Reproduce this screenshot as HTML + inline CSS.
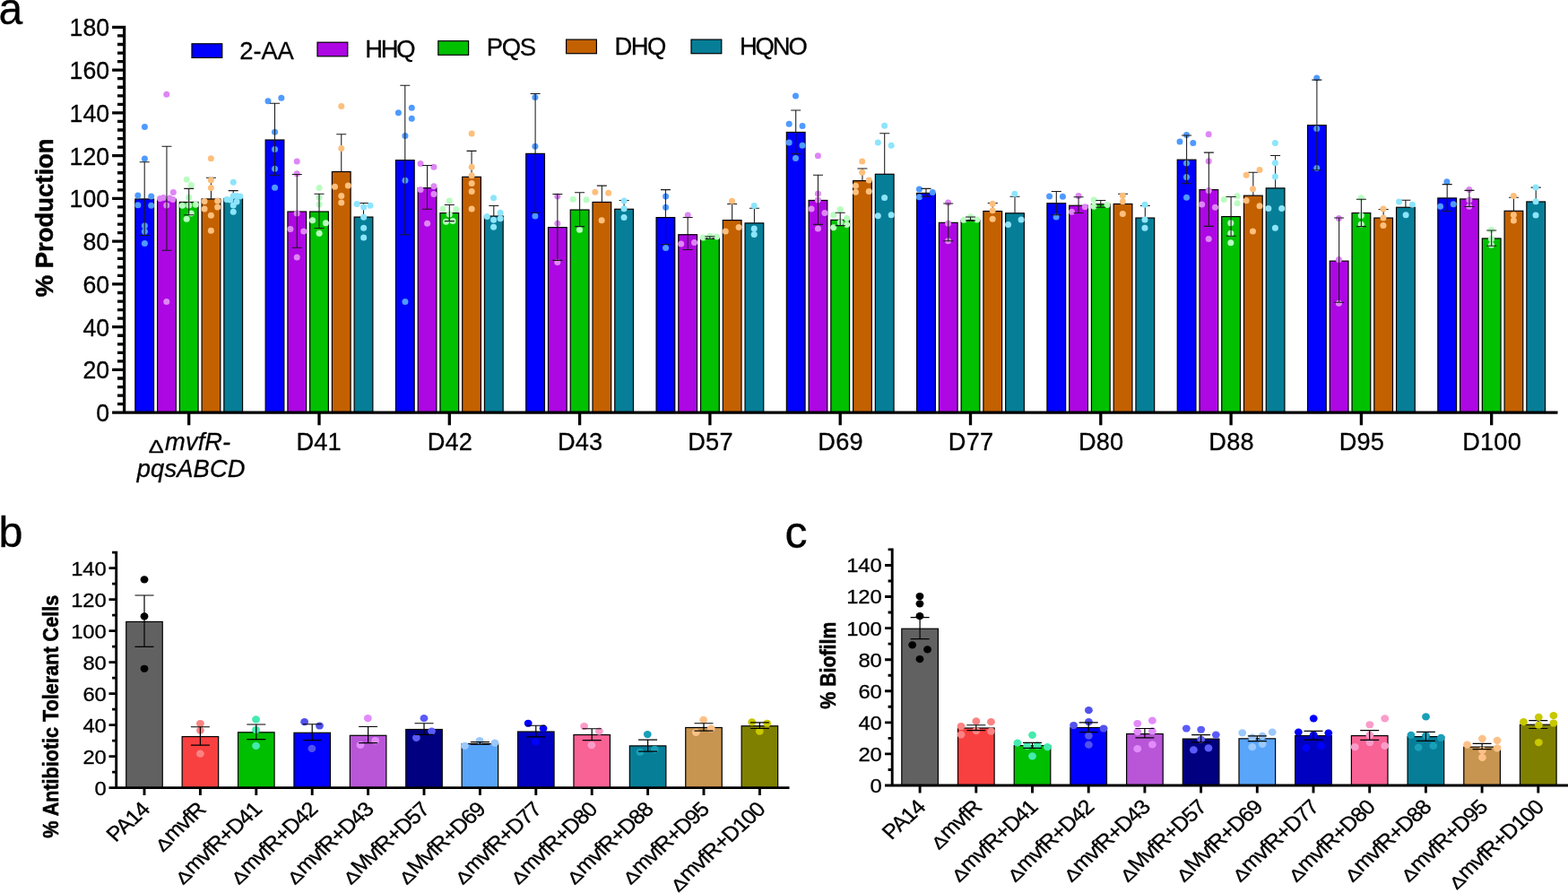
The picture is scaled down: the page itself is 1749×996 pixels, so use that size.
<!DOCTYPE html>
<html lang="en"><head><meta charset="utf-8"><title>Figure: % production, antibiotic tolerant cells and biofilm</title>
<style>html,body{margin:0;padding:0;background:#fff}body{width:1749px;height:996px;overflow:hidden}svg{display:block}text{font-family:'Liberation Sans', 'DejaVu Sans', sans-serif;fill:#000;stroke:#000;stroke-width:0.3px;stroke-linejoin:round}</style>
</head><body>
<svg width="1749" height="996" viewBox="0 0 1749 996">
<rect width="1749" height="996" fill="#fff"/>
<g id="panel-a">
<g stroke="#000" stroke-width="1.2">
<rect x="150.85" y="221.95" width="20.7" height="238.25" fill="#0000FF"/>
<rect x="175.6" y="222.2" width="20.7" height="238" fill="#AD07E3"/>
<rect x="200.35" y="225.47" width="20.7" height="234.73" fill="#00C000"/>
<rect x="225.1" y="221.95" width="20.7" height="238.25" fill="#C36100"/>
<rect x="249.85" y="221.45" width="20.7" height="238.75" fill="#077E97"/>
<rect x="296.15" y="156.04" width="20.7" height="304.16" fill="#0000FF"/>
<rect x="320.9" y="236.04" width="20.7" height="224.16" fill="#AD07E3"/>
<rect x="345.65" y="236.04" width="20.7" height="224.16" fill="#00C000"/>
<rect x="370.4" y="191.51" width="20.7" height="268.69" fill="#C36100"/>
<rect x="395.15" y="242.08" width="20.7" height="218.12" fill="#077E97"/>
<rect x="441.45" y="178.68" width="20.7" height="281.52" fill="#0000FF"/>
<rect x="466.2" y="209.62" width="20.7" height="250.58" fill="#AD07E3"/>
<rect x="490.95" y="237.55" width="20.7" height="222.65" fill="#00C000"/>
<rect x="515.7" y="197.3" width="20.7" height="262.9" fill="#C36100"/>
<rect x="540.45" y="241.07" width="20.7" height="219.13" fill="#077E97"/>
<rect x="586.75" y="171.38" width="20.7" height="288.82" fill="#0000FF"/>
<rect x="611.5" y="253.65" width="20.7" height="206.55" fill="#AD07E3"/>
<rect x="636.25" y="234.03" width="20.7" height="226.17" fill="#00C000"/>
<rect x="661" y="225.47" width="20.7" height="234.73" fill="#C36100"/>
<rect x="685.75" y="233.27" width="20.7" height="226.93" fill="#077E97"/>
<rect x="732.05" y="242.58" width="20.7" height="217.62" fill="#0000FF"/>
<rect x="756.8" y="261.7" width="20.7" height="198.5" fill="#AD07E3"/>
<rect x="781.55" y="265.72" width="20.7" height="194.48" fill="#00C000"/>
<rect x="806.3" y="245.6" width="20.7" height="214.6" fill="#C36100"/>
<rect x="831.05" y="248.87" width="20.7" height="211.33" fill="#077E97"/>
<rect x="877.35" y="147.48" width="20.7" height="312.72" fill="#0000FF"/>
<rect x="902.1" y="223.46" width="20.7" height="236.74" fill="#AD07E3"/>
<rect x="926.85" y="245.35" width="20.7" height="214.85" fill="#00C000"/>
<rect x="951.6" y="201.57" width="20.7" height="258.63" fill="#C36100"/>
<rect x="976.35" y="194.28" width="20.7" height="265.92" fill="#077E97"/>
<rect x="1022.65" y="215.41" width="20.7" height="244.79" fill="#0000FF"/>
<rect x="1047.4" y="248.36" width="20.7" height="211.84" fill="#AD07E3"/>
<rect x="1072.15" y="245.6" width="20.7" height="214.6" fill="#00C000"/>
<rect x="1096.9" y="235.53" width="20.7" height="224.67" fill="#C36100"/>
<rect x="1121.65" y="237.8" width="20.7" height="222.4" fill="#077E97"/>
<rect x="1167.95" y="226.73" width="20.7" height="233.47" fill="#0000FF"/>
<rect x="1192.7" y="229.25" width="20.7" height="230.95" fill="#AD07E3"/>
<rect x="1217.45" y="227.74" width="20.7" height="232.46" fill="#00C000"/>
<rect x="1242.2" y="227.48" width="20.7" height="232.72" fill="#C36100"/>
<rect x="1266.95" y="243.08" width="20.7" height="217.12" fill="#077E97"/>
<rect x="1313.25" y="178.18" width="20.7" height="282.02" fill="#0000FF"/>
<rect x="1338" y="211.64" width="20.7" height="248.56" fill="#AD07E3"/>
<rect x="1362.75" y="241.57" width="20.7" height="218.63" fill="#00C000"/>
<rect x="1387.5" y="218.18" width="20.7" height="242.02" fill="#C36100"/>
<rect x="1412.25" y="209.87" width="20.7" height="250.33" fill="#077E97"/>
<rect x="1458.55" y="139.69" width="20.7" height="320.51" fill="#0000FF"/>
<rect x="1483.3" y="291.13" width="20.7" height="169.07" fill="#AD07E3"/>
<rect x="1508.05" y="237.55" width="20.7" height="222.65" fill="#00C000"/>
<rect x="1532.8" y="243.08" width="20.7" height="217.12" fill="#C36100"/>
<rect x="1557.55" y="231.26" width="20.7" height="228.94" fill="#077E97"/>
<rect x="1603.85" y="220.94" width="20.7" height="239.26" fill="#0000FF"/>
<rect x="1628.6" y="221.95" width="20.7" height="238.25" fill="#AD07E3"/>
<rect x="1653.35" y="265.97" width="20.7" height="194.23" fill="#00C000"/>
<rect x="1678.1" y="235.28" width="20.7" height="224.92" fill="#C36100"/>
<rect x="1702.85" y="224.97" width="20.7" height="235.23" fill="#077E97"/>
</g>
<path d="M235.45 198.3V221.95 M229.95 198.3H240.95 M260.2 212.64V221.45 M254.7 212.64H265.7 M380.75 149.75V191.51 M375.25 149.75H386.25 M405.5 226.48V242.08 M400 226.48H411 M526.05 168.36V197.3 M520.55 168.36H531.55 M550.8 229.5V241.07 M545.3 229.5H556.3 M671.35 207.11V225.47 M665.85 207.11H676.85 M696.1 223.46V233.27 M690.6 223.46H701.6 M816.65 227.48V245.6 M811.15 227.48H822.15 M841.4 232.26V248.87 M835.9 232.26H846.9 M961.95 187.99V201.57 M956.45 187.99H967.45 M986.7 148.74V194.28 M981.2 148.74H992.2 M1107.25 226.48V235.53 M1101.75 226.48H1112.75 M1132 219.18V237.8 M1126.5 219.18H1137.5 M1252.55 216.16V227.48 M1247.05 216.16H1258.05 M1277.3 229.5V243.08 M1271.8 229.5H1282.8 M1397.85 192.26V218.18 M1392.35 192.26H1403.35 M1422.6 173.4V209.87 M1417.1 173.4H1428.1 M1543.15 233.52V243.08 M1537.65 233.52H1548.65 M1567.9 223.21V231.26 M1562.4 223.21H1573.4 M1688.45 220.19V235.28 M1682.95 220.19H1693.95 M1713.2 209.12V224.97 M1707.7 209.12H1718.7" fill="none" stroke="#1a1a1a" stroke-width="1.05"/>
<g fill="#FDBF7D"><circle cx="235.35" cy="176.67" r="3.5"/><circle cx="235.35" cy="201.07" r="3.5"/><circle cx="235.35" cy="209.62" r="3.5"/><circle cx="228.05" cy="224.47" r="3.5"/><circle cx="242.64" cy="223.96" r="3.5"/><circle cx="228.05" cy="233.02" r="3.5"/><circle cx="242.64" cy="231.01" r="3.5"/><circle cx="235.35" cy="240.31" r="3.5"/><circle cx="235.35" cy="257.17" r="3.5"/><circle cx="380.75" cy="118.55" r="3.5"/><circle cx="380.75" cy="165.6" r="3.5"/><circle cx="373.46" cy="208.36" r="3.5"/><circle cx="388.3" cy="207.11" r="3.5"/><circle cx="380.75" cy="218.43" r="3.5"/><circle cx="380.75" cy="225.97" r="3.5"/><circle cx="526.16" cy="148.99" r="3.5"/><circle cx="526.16" cy="186.23" r="3.5"/><circle cx="526.16" cy="195.79" r="3.5"/><circle cx="526.16" cy="204.59" r="3.5"/><circle cx="526.16" cy="213.4" r="3.5"/><circle cx="526.16" cy="233.02" r="3.5"/><circle cx="663.84" cy="214.15" r="3.5"/><circle cx="678.68" cy="215.16" r="3.5"/><circle cx="671.13" cy="245.85" r="3.5"/><circle cx="816.54" cy="224.21" r="3.5"/><circle cx="809.25" cy="257.92" r="3.5"/><circle cx="824.09" cy="253.4" r="3.5"/><circle cx="961.7" cy="179.94" r="3.5"/><circle cx="961.7" cy="192.26" r="3.5"/><circle cx="969.25" cy="201.07" r="3.5"/><circle cx="954.4" cy="207.36" r="3.5"/><circle cx="954.4" cy="214.15" r="3.5"/><circle cx="969.25" cy="213.4" r="3.5"/><circle cx="1107.17" cy="227.23" r="3.5"/><circle cx="1107.17" cy="234.78" r="3.5"/><circle cx="1107.17" cy="244.34" r="3.5"/><circle cx="1252.33" cy="218.18" r="3.5"/><circle cx="1252.33" cy="224.72" r="3.5"/><circle cx="1252.33" cy="238.55" r="3.5"/><circle cx="1405.03" cy="189.5" r="3.5"/><circle cx="1390.19" cy="195.28" r="3.5"/><circle cx="1397.48" cy="210.63" r="3.5"/><circle cx="1390.19" cy="223.71" r="3.5"/><circle cx="1405.03" cy="229.75" r="3.5"/><circle cx="1397.48" cy="257.92" r="3.5"/><circle cx="1542.96" cy="233.02" r="3.5"/><circle cx="1542.96" cy="243.08" r="3.5"/><circle cx="1542.96" cy="251.38" r="3.5"/><circle cx="1688.37" cy="218.43" r="3.5"/><circle cx="1688.37" cy="239.81" r="3.5"/><circle cx="1688.37" cy="246.1" r="3.5"/></g>
<g fill="#8DE5FB"><circle cx="260.25" cy="203.33" r="3.5"/><circle cx="252.96" cy="222.45" r="3.5"/><circle cx="256.73" cy="222.96" r="3.5"/><circle cx="260.25" cy="218.43" r="3.5"/><circle cx="264.03" cy="218.43" r="3.5"/><circle cx="267.8" cy="218.93" r="3.5"/><circle cx="264.03" cy="224.97" r="3.5"/><circle cx="260.25" cy="228.99" r="3.5"/><circle cx="260.25" cy="236.29" r="3.5"/><circle cx="398.11" cy="227.48" r="3.5"/><circle cx="412.96" cy="229.25" r="3.5"/><circle cx="405.66" cy="231.01" r="3.5"/><circle cx="405.66" cy="242.33" r="3.5"/><circle cx="405.66" cy="254.15" r="3.5"/><circle cx="405.66" cy="264.97" r="3.5"/><circle cx="550.57" cy="220.69" r="3.5"/><circle cx="543.27" cy="241.57" r="3.5"/><circle cx="558.11" cy="237.3" r="3.5"/><circle cx="558.11" cy="243.84" r="3.5"/><circle cx="550.57" cy="245.35" r="3.5"/><circle cx="550.57" cy="253.14" r="3.5"/><circle cx="696.04" cy="223.96" r="3.5"/><circle cx="696.04" cy="232.77" r="3.5"/><circle cx="696.04" cy="242.58" r="3.5"/><circle cx="841.19" cy="229.5" r="3.5"/><circle cx="841.19" cy="254.91" r="3.5"/><circle cx="841.19" cy="261.45" r="3.5"/><circle cx="986.6" cy="140.19" r="3.5"/><circle cx="979.31" cy="159.06" r="3.5"/><circle cx="994.15" cy="162.33" r="3.5"/><circle cx="986.6" cy="220.44" r="3.5"/><circle cx="979.31" cy="240.82" r="3.5"/><circle cx="994.15" cy="239.81" r="3.5"/><circle cx="1131.82" cy="216.16" r="3.5"/><circle cx="1139.12" cy="245.09" r="3.5"/><circle cx="1124.53" cy="250.38" r="3.5"/><circle cx="1276.98" cy="228.24" r="3.5"/><circle cx="1276.98" cy="245.09" r="3.5"/><circle cx="1276.98" cy="254.15" r="3.5"/><circle cx="1422.39" cy="159.56" r="3.5"/><circle cx="1422.39" cy="181.7" r="3.5"/><circle cx="1422.39" cy="197.04" r="3.5"/><circle cx="1414.84" cy="232.52" r="3.5"/><circle cx="1429.69" cy="232.52" r="3.5"/><circle cx="1422.39" cy="254.15" r="3.5"/><circle cx="1560.57" cy="224.97" r="3.5"/><circle cx="1575.42" cy="228.24" r="3.5"/><circle cx="1568.12" cy="239.81" r="3.5"/><circle cx="1713.03" cy="209.12" r="3.5"/><circle cx="1713.03" cy="224.72" r="3.5"/><circle cx="1713.03" cy="240.06" r="3.5"/></g>
<g fill="#4F9AFF"><circle cx="161.38" cy="141.45" r="3.5"/><circle cx="161.38" cy="176.92" r="3.5"/><circle cx="153.84" cy="217.92" r="3.5"/><circle cx="168.68" cy="218.93" r="3.5"/><circle cx="153.84" cy="228.74" r="3.5"/><circle cx="168.68" cy="229.25" r="3.5"/><circle cx="161.38" cy="251.64" r="3.5"/><circle cx="161.38" cy="258.18" r="3.5"/><circle cx="161.38" cy="271.51" r="3.5"/><circle cx="298.99" cy="112.77" r="3.5"/><circle cx="313.84" cy="109.25" r="3.5"/><circle cx="306.54" cy="147.23" r="3.5"/><circle cx="306.54" cy="166.6" r="3.5"/><circle cx="306.54" cy="188.24" r="3.5"/><circle cx="306.54" cy="209.37" r="3.5"/><circle cx="444.4" cy="125.85" r="3.5"/><circle cx="459.25" cy="120.31" r="3.5"/><circle cx="459.25" cy="132.14" r="3.5"/><circle cx="451.95" cy="151.51" r="3.5"/><circle cx="451.95" cy="201.32" r="3.5"/><circle cx="451.95" cy="336.42" r="3.5"/><circle cx="596.92" cy="108.49" r="3.5"/><circle cx="596.92" cy="163.33" r="3.5"/><circle cx="596.92" cy="241.07" r="3.5"/><circle cx="742.58" cy="218.93" r="3.5"/><circle cx="742.58" cy="231.26" r="3.5"/><circle cx="742.58" cy="276.54" r="3.5"/><circle cx="887.48" cy="106.98" r="3.5"/><circle cx="880.19" cy="138.18" r="3.5"/><circle cx="895.03" cy="140.44" r="3.5"/><circle cx="880.19" cy="159.06" r="3.5"/><circle cx="895.03" cy="162.33" r="3.5"/><circle cx="887.48" cy="176.42" r="3.5"/><circle cx="1025.41" cy="210.88" r="3.5"/><circle cx="1040.25" cy="214.4" r="3.5"/><circle cx="1025.41" cy="219.69" r="3.5"/><circle cx="1170.57" cy="218.93" r="3.5"/><circle cx="1185.41" cy="219.18" r="3.5"/><circle cx="1178.11" cy="242.08" r="3.5"/><circle cx="1323.52" cy="150.5" r="3.5"/><circle cx="1315.97" cy="158.05" r="3.5"/><circle cx="1330.82" cy="159.56" r="3.5"/><circle cx="1323.52" cy="181.95" r="3.5"/><circle cx="1323.52" cy="197.55" r="3.5"/><circle cx="1323.52" cy="220.19" r="3.5"/><circle cx="1468.75" cy="87.11" r="3.5"/><circle cx="1468.75" cy="143.46" r="3.5"/><circle cx="1468.75" cy="187.48" r="3.5"/><circle cx="1613.91" cy="202.83" r="3.5"/><circle cx="1606.61" cy="230.25" r="3.5"/><circle cx="1621.2" cy="227.74" r="3.5"/></g>
<g fill="#DE86F6"><circle cx="185.79" cy="105.22" r="3.5"/><circle cx="193.33" cy="214.4" r="3.5"/><circle cx="178.49" cy="221.45" r="3.5"/><circle cx="182.26" cy="220.44" r="3.5"/><circle cx="189.31" cy="220.94" r="3.5"/><circle cx="192.83" cy="222.45" r="3.5"/><circle cx="185.79" cy="228.99" r="3.5"/><circle cx="185.79" cy="336.42" r="3.5"/><circle cx="331.19" cy="179.94" r="3.5"/><circle cx="331.19" cy="193.77" r="3.5"/><circle cx="331.19" cy="238.05" r="3.5"/><circle cx="323.9" cy="255.41" r="3.5"/><circle cx="338.74" cy="257.92" r="3.5"/><circle cx="331.19" cy="287.11" r="3.5"/><circle cx="469.06" cy="182.45" r="3.5"/><circle cx="483.9" cy="186.23" r="3.5"/><circle cx="483.9" cy="207.86" r="3.5"/><circle cx="469.06" cy="211.38" r="3.5"/><circle cx="483.9" cy="216.42" r="3.5"/><circle cx="476.6" cy="249.37" r="3.5"/><circle cx="621.82" cy="218.93" r="3.5"/><circle cx="621.82" cy="249.37" r="3.5"/><circle cx="621.82" cy="292.39" r="3.5"/><circle cx="767.23" cy="240.06" r="3.5"/><circle cx="759.69" cy="272.01" r="3.5"/><circle cx="774.53" cy="270.5" r="3.5"/><circle cx="912.39" cy="173.65" r="3.5"/><circle cx="912.39" cy="215.91" r="3.5"/><circle cx="912.39" cy="222.96" r="3.5"/><circle cx="905.09" cy="233.02" r="3.5"/><circle cx="919.94" cy="237.55" r="3.5"/><circle cx="912.39" cy="254.91" r="3.5"/><circle cx="1057.61" cy="225.97" r="3.5"/><circle cx="1057.61" cy="249.37" r="3.5"/><circle cx="1057.61" cy="268.74" r="3.5"/><circle cx="1203.02" cy="218.43" r="3.5"/><circle cx="1210.31" cy="230.75" r="3.5"/><circle cx="1195.47" cy="236.29" r="3.5"/><circle cx="1348.18" cy="149.75" r="3.5"/><circle cx="1348.18" cy="179.69" r="3.5"/><circle cx="1348.18" cy="212.39" r="3.5"/><circle cx="1340.63" cy="227.99" r="3.5"/><circle cx="1355.47" cy="231.26" r="3.5"/><circle cx="1348.18" cy="266.48" r="3.5"/><circle cx="1493.4" cy="243.58" r="3.5"/><circle cx="1493.4" cy="289.62" r="3.5"/><circle cx="1493.4" cy="338.18" r="3.5"/><circle cx="1638.81" cy="211.38" r="3.5"/><circle cx="1638.81" cy="222.96" r="3.5"/><circle cx="1638.81" cy="230.25" r="3.5"/></g>
<g fill="#B9FDC0"><circle cx="208.18" cy="200.31" r="3.5"/><circle cx="213.21" cy="206.6" r="3.5"/><circle cx="210.69" cy="220.19" r="3.5"/><circle cx="203.4" cy="229.25" r="3.5"/><circle cx="210.69" cy="228.99" r="3.5"/><circle cx="218.24" cy="228.24" r="3.5"/><circle cx="213.21" cy="238.05" r="3.5"/><circle cx="208.18" cy="244.34" r="3.5"/><circle cx="356.1" cy="209.62" r="3.5"/><circle cx="356.1" cy="220.44" r="3.5"/><circle cx="356.1" cy="227.99" r="3.5"/><circle cx="348.55" cy="245.85" r="3.5"/><circle cx="363.4" cy="248.87" r="3.5"/><circle cx="356.1" cy="260.19" r="3.5"/><circle cx="501.26" cy="223.96" r="3.5"/><circle cx="493.96" cy="233.02" r="3.5"/><circle cx="508.81" cy="233.52" r="3.5"/><circle cx="501.26" cy="239.06" r="3.5"/><circle cx="497.48" cy="247.36" r="3.5"/><circle cx="505.03" cy="246.6" r="3.5"/><circle cx="639.18" cy="222.2" r="3.5"/><circle cx="654.03" cy="222.7" r="3.5"/><circle cx="646.48" cy="256.16" r="3.5"/><circle cx="784.34" cy="264.97" r="3.5"/><circle cx="791.89" cy="263.21" r="3.5"/><circle cx="799.43" cy="263.96" r="3.5"/><circle cx="937.3" cy="233.52" r="3.5"/><circle cx="929.75" cy="239.81" r="3.5"/><circle cx="944.59" cy="243.58" r="3.5"/><circle cx="937.3" cy="248.11" r="3.5"/><circle cx="944.59" cy="250.38" r="3.5"/><circle cx="929.75" cy="253.65" r="3.5"/><circle cx="1074.97" cy="245.35" r="3.5"/><circle cx="1082.52" cy="241.82" r="3.5"/><circle cx="1089.81" cy="245.09" r="3.5"/><circle cx="1220.13" cy="222.96" r="3.5"/><circle cx="1220.13" cy="230.25" r="3.5"/><circle cx="1234.97" cy="228.49" r="3.5"/><circle cx="1380.13" cy="218.68" r="3.5"/><circle cx="1365.28" cy="222.45" r="3.5"/><circle cx="1380.13" cy="226.73" r="3.5"/><circle cx="1372.83" cy="248.87" r="3.5"/><circle cx="1372.83" cy="260.19" r="3.5"/><circle cx="1372.83" cy="270.75" r="3.5"/><circle cx="1518.31" cy="220.69" r="3.5"/><circle cx="1518.31" cy="240.57" r="3.5"/><circle cx="1518.31" cy="250.13" r="3.5"/><circle cx="1663.47" cy="256.42" r="3.5"/><circle cx="1663.47" cy="266.48" r="3.5"/><circle cx="1663.47" cy="273.27" r="3.5"/></g>
<path d="M161.2 180.69V262.45 M155.7 180.69H166.7 M155.7 262.45H166.7 M185.95 163.33V279.31 M180.45 163.33H191.45 M180.45 279.31H191.45 M210.7 210.38V239.81 M205.2 210.38H216.2 M205.2 239.81H216.2 M306.5 115.28V195.79 M301 115.28H312 M301 195.79H312 M331.25 194.53V276.29 M325.75 194.53H336.75 M325.75 276.29H336.75 M356 216.16V254.4 M350.5 216.16H361.5 M350.5 254.4H361.5 M451.8 95.16V261.7 M446.3 95.16H457.3 M446.3 261.7H457.3 M476.55 184.47V233.27 M471.05 184.47H482.05 M471.05 233.27H482.05 M501.3 228.49V246.6 M495.8 228.49H506.8 M495.8 246.6H506.8 M597.1 104.47V237.3 M591.6 104.47H602.6 M591.6 237.3H602.6 M621.85 216.42V290.38 M616.35 216.42H627.35 M616.35 290.38H627.35 M646.6 214.65V252.64 M641.1 214.65H652.1 M641.1 252.64H652.1 M742.4 211.64V272.52 M736.9 211.64H747.9 M736.9 272.52H747.9 M767.15 242.58V278.55 M761.65 242.58H772.65 M761.65 278.55H772.65 M791.9 263.71V266.23 M786.4 263.71H797.4 M786.4 266.23H797.4 M887.7 123.08V171.64 M882.2 123.08H893.2 M882.2 171.64H893.2 M912.45 195.28V250.38 M906.95 195.28H917.95 M906.95 250.38H917.95 M937.2 237.3V251.64 M931.7 237.3H942.7 M931.7 251.64H942.7 M1033 210.38V219.18 M1027.5 210.38H1038.5 M1027.5 219.18H1038.5 M1057.75 226.98V268.74 M1052.25 226.98H1063.25 M1052.25 268.74H1063.25 M1082.5 242.08V246.1 M1077 242.08H1088 M1077 246.1H1088 M1178.3 213.4V239.81 M1172.8 213.4H1183.8 M1172.8 239.81H1183.8 M1203.05 219.69V237.55 M1197.55 219.69H1208.55 M1197.55 237.55H1208.55 M1227.8 223.46V231.26 M1222.3 223.46H1233.3 M1222.3 231.26H1233.3 M1323.6 151.01V204.84 M1318.1 151.01H1329.1 M1318.1 204.84H1329.1 M1348.35 170.13V252.39 M1342.85 170.13H1353.85 M1342.85 252.39H1353.85 M1373.1 219.43V263.21 M1367.6 219.43H1378.6 M1367.6 263.21H1378.6 M1468.9 89.12V189.75 M1463.4 89.12H1474.4 M1463.4 189.75H1474.4 M1493.65 243.08V337.17 M1488.15 243.08H1499.15 M1488.15 337.17H1499.15 M1518.4 222.2V252.64 M1512.9 222.2H1523.9 M1512.9 252.64H1523.9 M1614.2 205.6V235.53 M1608.7 205.6H1619.7 M1608.7 235.53H1619.7 M1638.95 212.39V230.5 M1633.45 212.39H1644.45 M1633.45 230.5H1644.45 M1663.7 256.92V274.28 M1658.2 256.92H1669.2 M1658.2 274.28H1669.2" fill="none" stroke="#1a1a1a" stroke-width="1.05"/>
<path d="M125.1 460.2H138.6 M131 450.65H138.6 M131 441.1H138.6 M131 431.55H138.6 M131 422H138.6 M125.1 412.44H138.6 M131 402.89H138.6 M131 393.34H138.6 M131 383.79H138.6 M131 374.24H138.6 M125.1 364.69H138.6 M131 355.14H138.6 M131 345.59H138.6 M131 336.04H138.6 M131 326.48H138.6 M125.1 316.93H138.6 M131 307.38H138.6 M131 297.83H138.6 M131 288.28H138.6 M131 278.73H138.6 M125.1 269.18H138.6 M131 259.63H138.6 M131 250.08H138.6 M131 240.52H138.6 M131 230.97H138.6 M125.1 221.42H138.6 M131 211.87H138.6 M131 202.32H138.6 M131 192.77H138.6 M131 183.22H138.6 M125.1 173.67H138.6 M131 164.12H138.6 M131 154.56H138.6 M131 145.01H138.6 M131 135.46H138.6 M125.1 125.91H138.6 M131 116.36H138.6 M131 106.81H138.6 M131 97.26H138.6 M131 87.71H138.6 M125.1 78.16H138.6 M131 68.6H138.6 M131 59.05H138.6 M131 49.5H138.6 M131 39.95H138.6 M125.1 30.4H138.6 M210.7 460.2V474.2 M356 460.2V474.2 M501.3 460.2V474.2 M646.6 460.2V474.2 M791.9 460.2V474.2 M937.2 460.2V474.2 M1082.5 460.2V474.2 M1227.8 460.2V474.2 M1373.1 460.2V474.2 M1518.4 460.2V474.2 M1663.7 460.2V474.2 M138.6 28.75V461.85 M125.1 460.2H1737.5" fill="none" stroke="#000" stroke-width="3.3"/>
<text transform="translate(107.29 470.1) scale(0.9600 1)" font-size="27.8">0</text>
<text transform="translate(92.48 422.34) scale(0.9600 1)" font-size="27.8">20</text>
<text transform="translate(92.48 374.59) scale(0.9600 1)" font-size="27.8">40</text>
<text transform="translate(92.48 326.83) scale(0.9600 1)" font-size="27.8">60</text>
<text transform="translate(92.48 279.08) scale(0.9600 1)" font-size="27.8">80</text>
<text transform="translate(77.6 231.32) scale(0.9600 1)" font-size="27.8">100</text>
<text transform="translate(77.6 183.57) scale(0.9600 1)" font-size="27.8">120</text>
<text transform="translate(77.6 135.81) scale(0.9600 1)" font-size="27.8">140</text>
<text transform="translate(77.6 88.06) scale(0.9600 1)" font-size="27.8">160</text>
<text transform="translate(77.6 40.3) scale(0.9600 1)" font-size="27.8">180</text>
<text transform="translate(59.4 331.19) rotate(-90) scale(1.0017 1.0000)" font-size="27.4" font-weight="bold" style="stroke-width:0.55px">% Production</text>
<text transform="translate(165.83 504.7) scale(1.2150 1)" font-size="21">Δ</text>
<text transform="translate(184.12 501.7)" font-size="27.3" font-style="italic" letter-spacing="0.06">mvfR-</text>
<text transform="translate(152.78 531.9)" font-size="27.3" font-style="italic" letter-spacing="0.14">pqsABCD</text>
<text transform="translate(330.4 501.8)" font-size="27.2" letter-spacing="0.2">D41</text>
<text transform="translate(476.64 501.8)" font-size="27.2" letter-spacing="0.2">D42</text>
<text transform="translate(621.93 501.8)" font-size="27.2" letter-spacing="0.2">D43</text>
<text transform="translate(767.24 501.8)" font-size="27.2" letter-spacing="0.2">D57</text>
<text transform="translate(912.37 501.8)" font-size="27.2" letter-spacing="0.2">D69</text>
<text transform="translate(1057.84 501.8)" font-size="27.2" letter-spacing="0.2">D77</text>
<text transform="translate(1202.97 501.8)" font-size="27.2" letter-spacing="0.2">D80</text>
<text transform="translate(1348.33 501.8)" font-size="27.2" letter-spacing="0.2">D88</text>
<text transform="translate(1493.7 501.8)" font-size="27.2" letter-spacing="0.2">D95</text>
<text transform="translate(1631.18 501.8)" font-size="27.2" letter-spacing="0.2">D100</text>
<rect x="214" y="48.8" width="33.8" height="15.6" fill="#0000FF" stroke="#000" stroke-width="1.2"/>
<text transform="translate(267.33 65.6)" font-size="27.4" letter-spacing="-0.12">2-AA</text>
<rect x="354" y="47.2" width="33.8" height="15.6" fill="#AD07E3" stroke="#000" stroke-width="1.2"/>
<text transform="translate(407.24 63.8)" font-size="27.4" letter-spacing="-2.22">HHQ</text>
<rect x="488.8" y="45.7" width="33.8" height="15.6" fill="#00C000" stroke="#000" stroke-width="1.2"/>
<text transform="translate(542.74 62.2)" font-size="27.4" letter-spacing="-1.24">PQS</text>
<rect x="631.6" y="44.1" width="33.8" height="15.6" fill="#C36100" stroke="#000" stroke-width="1.2"/>
<text transform="translate(685.54 60.6)" font-size="27.4" letter-spacing="-1.57">DHQ</text>
<rect x="771" y="44.1" width="33.8" height="15.6" fill="#077E97" stroke="#000" stroke-width="1.2"/>
<text transform="translate(824.94 60.6)" font-size="27.4" letter-spacing="-2.11">HQNO</text>
</g>
<g id="panel-b">
<g stroke="#000" stroke-width="1.2">
<rect x="140.75" y="693.43" width="40.5" height="185.17" fill="#616161"/>
<rect x="203.15" y="821.57" width="40.5" height="57.03" fill="#F94040"/>
<rect x="265.55" y="816.79" width="40.5" height="61.81" fill="#00BE00"/>
<rect x="327.95" y="817.29" width="40.5" height="61.31" fill="#0000FF"/>
<rect x="390.35" y="820.31" width="40.5" height="58.29" fill="#B856D7"/>
<rect x="452.75" y="813.52" width="40.5" height="65.08" fill="#000080"/>
<rect x="515.15" y="829.62" width="40.5" height="48.98" fill="#59A5FA"/>
<rect x="577.55" y="816.04" width="40.5" height="62.56" fill="#0000C0"/>
<rect x="639.95" y="819.56" width="40.5" height="59.04" fill="#F86295"/>
<rect x="702.35" y="831.89" width="40.5" height="46.71" fill="#077E97"/>
<rect x="764.75" y="811.51" width="40.5" height="67.09" fill="#C89550"/>
<rect x="827.15" y="809.75" width="40.5" height="68.85" fill="#808000"/>
</g>
<g fill="#000000"><ellipse cx="161.01" cy="646.39" rx="4.4" ry="4.1"/><ellipse cx="161.01" cy="687.4" rx="4.4" ry="4.1"/><ellipse cx="161.01" cy="745.76" rx="4.4" ry="4.1"/></g>
<g fill="#FB8383"><ellipse cx="223.4" cy="806.98" rx="4.4" ry="4.1"/><ellipse cx="223.4" cy="814.53" rx="4.4" ry="4.1"/><ellipse cx="223.4" cy="840.69" rx="4.4" ry="4.1"/></g>
<g fill="#44EAAE"><ellipse cx="285.53" cy="802.45" rx="4.4" ry="4.1"/><ellipse cx="285.53" cy="814.02" rx="4.4" ry="4.1"/><ellipse cx="285.53" cy="831.89" rx="4.4" ry="4.1"/></g>
<g fill="#5252EC"><ellipse cx="339.62" cy="805.22" rx="4.4" ry="4.1"/><ellipse cx="356.48" cy="809.5" rx="4.4" ry="4.1"/><ellipse cx="347.92" cy="834.91" rx="4.4" ry="4.1"/></g>
<g fill="#E18CFA"><ellipse cx="410.31" cy="801.19" rx="4.4" ry="4.1"/><ellipse cx="418.62" cy="826.1" rx="4.4" ry="4.1"/><ellipse cx="402.01" cy="830.88" rx="4.4" ry="4.1"/></g>
<g fill="#5B5BF9"><ellipse cx="472.96" cy="801.19" rx="4.4" ry="4.1"/><ellipse cx="481.51" cy="815.53" rx="4.4" ry="4.1"/><ellipse cx="464.4" cy="822.83" rx="4.4" ry="4.1"/></g>
<g fill="#9CC8FC"><ellipse cx="535.09" cy="826.1" rx="4.4" ry="4.1"/><ellipse cx="551.95" cy="828.62" rx="4.4" ry="4.1"/><ellipse cx="518.49" cy="831.89" rx="4.4" ry="4.1"/></g>
<g fill="#0000FF"><ellipse cx="589.18" cy="806.73" rx="4.4" ry="4.1"/><ellipse cx="606.04" cy="812.52" rx="4.4" ry="4.1"/><ellipse cx="597.48" cy="827.36" rx="4.4" ry="4.1"/></g>
<g fill="#FA9CC9"><ellipse cx="651.57" cy="810" rx="4.4" ry="4.1"/><ellipse cx="668.43" cy="815.53" rx="4.4" ry="4.1"/><ellipse cx="659.87" cy="831.13" rx="4.4" ry="4.1"/></g>
<g fill="#1A9FB9"><ellipse cx="722.26" cy="819.06" rx="4.4" ry="4.1"/><ellipse cx="730.31" cy="835.91" rx="4.4" ry="4.1"/><ellipse cx="713.96" cy="838.93" rx="4.4" ry="4.1"/></g>
<g fill="#FDC187"><ellipse cx="784.65" cy="802.96" rx="4.4" ry="4.1"/><ellipse cx="793.21" cy="812.52" rx="4.4" ry="4.1"/><ellipse cx="776.35" cy="816.79" rx="4.4" ry="4.1"/></g>
<g fill="#C8C800"><ellipse cx="838.74" cy="805.47" rx="4.4" ry="4.1"/><ellipse cx="855.6" cy="806.73" rx="4.4" ry="4.1"/><ellipse cx="847.3" cy="815.53" rx="4.4" ry="4.1"/></g>
<path d="M161 664V721.36 M150.5 664H171.5 M150.5 721.36H171.5 M223.4 810.75V831.13 M212.9 810.75H233.9 M212.9 831.13H233.9 M285.8 807.99V824.59 M275.3 807.99H296.3 M275.3 824.59H296.3 M348.2 807.74V825.6 M337.7 807.74H358.7 M337.7 825.6H358.7 M410.6 810.5V828.62 M400.1 810.5H421.1 M400.1 828.62H421.1 M473 806.73V819.31 M462.5 806.73H483.5 M462.5 819.31H483.5 M535.4 827.61V830.13 M524.9 827.61H545.9 M524.9 830.13H545.9 M597.8 809.24V821.82 M587.3 809.24H608.3 M587.3 821.82H608.3 M660.2 812.77V825.6 M649.7 812.77H670.7 M649.7 825.6H670.7 M722.6 825.09V838.18 M712.1 825.09H733.1 M712.1 838.18H733.1 M785 806.73V815.03 M774.5 806.73H795.5 M774.5 815.03H795.5 M847.4 805.97V812.52 M836.9 805.97H857.9 M836.9 812.52H857.9" fill="none" stroke="#000" stroke-width="1.2"/>
<path d="M121.5 878.6H129.7 M125.1 861.1H129.7 M121.5 843.6H129.7 M125.1 826.1H129.7 M121.5 808.6H129.7 M125.1 791.1H129.7 M121.5 773.6H129.7 M125.1 756.1H129.7 M121.5 738.6H129.7 M125.1 721.1H129.7 M121.5 703.6H129.7 M125.1 686.1H129.7 M121.5 668.6H129.7 M125.1 651.1H129.7 M121.5 633.6H129.7 M125.1 616.1H129.7 M161 878.6V887.1 M223.4 878.6V887.1 M285.8 878.6V887.1 M348.2 878.6V887.1 M410.6 878.6V887.1 M473 878.6V887.1 M535.4 878.6V887.1 M597.8 878.6V887.1 M660.2 878.6V887.1 M722.6 878.6V887.1 M785 878.6V887.1 M847.4 878.6V887.1 M129.7 614.65V880.05 M121.5 878.6H880.5" fill="none" stroke="#000" stroke-width="2.9"/>
<text transform="translate(105.6 886.5) scale(1.1000 1)" font-size="21.6">0</text>
<text transform="translate(92.42 851.5) scale(1.1000 1)" font-size="21.6">20</text>
<text transform="translate(92.42 816.5) scale(1.1000 1)" font-size="21.6">40</text>
<text transform="translate(92.42 781.5) scale(1.1000 1)" font-size="21.6">60</text>
<text transform="translate(92.42 746.5) scale(1.1000 1)" font-size="21.6">80</text>
<text transform="translate(79.17 711.5) scale(1.1000 1)" font-size="21.6">100</text>
<text transform="translate(79.17 676.5) scale(1.1000 1)" font-size="21.6">120</text>
<text transform="translate(79.17 641.5) scale(1.1000 1)" font-size="21.6">140</text>
<text transform="translate(65.3 934.74) rotate(-90) scale(0.9593 1.0400)" font-size="22.5" font-weight="bold" style="stroke-width:0.55px">% Antibiotic Tolerant Cells</text>
<g transform="translate(169 903.8) scale(1.1 1) rotate(-45)" font-size="22.9">
<text x="-1" text-anchor="end" letter-spacing="-1">PA14</text>
</g>
<g transform="translate(231.4 903.8) scale(1.1 1) rotate(-45)" font-size="22.9">
<text x="-1" text-anchor="end" letter-spacing="-1">mvfR</text>
<text transform="translate(-50.63 1.5) scale(1.2 1)" text-anchor="end" font-size="18.32">Δ</text>
</g>
<g transform="translate(293.8 903.8) scale(1.1 1) rotate(-45)" font-size="22.9">
<text x="-1" text-anchor="end" letter-spacing="-1">mvfR+D41</text>
<text transform="translate(-102.01 1.5) scale(1.2 1)" text-anchor="end" font-size="18.32">Δ</text>
</g>
<g transform="translate(356.2 903.8) scale(1.1 1) rotate(-45)" font-size="22.9">
<text x="-1" text-anchor="end" letter-spacing="-1">mvfR+D42</text>
<text transform="translate(-102.01 1.5) scale(1.2 1)" text-anchor="end" font-size="18.32">Δ</text>
</g>
<g transform="translate(418.6 903.8) scale(1.1 1) rotate(-45)" font-size="22.9">
<text x="-1" text-anchor="end" letter-spacing="-1">mvfR+D43</text>
<text transform="translate(-102.01 1.5) scale(1.2 1)" text-anchor="end" font-size="18.32">Δ</text>
</g>
<g transform="translate(481 903.8) scale(1.1 1) rotate(-45)" font-size="22.9">
<text x="-1" text-anchor="end" letter-spacing="-1">MvfR+D57</text>
<text transform="translate(-102.01 1.5) scale(1.2 1)" text-anchor="end" font-size="18.32">Δ</text>
</g>
<g transform="translate(543.4 903.8) scale(1.1 1) rotate(-45)" font-size="22.9">
<text x="-1" text-anchor="end" letter-spacing="-1">MvfR+D69</text>
<text transform="translate(-102.01 1.5) scale(1.2 1)" text-anchor="end" font-size="18.32">Δ</text>
</g>
<g transform="translate(605.8 903.8) scale(1.1 1) rotate(-45)" font-size="22.9">
<text x="-1" text-anchor="end" letter-spacing="-1">mvfR+D77</text>
<text transform="translate(-102.01 1.5) scale(1.2 1)" text-anchor="end" font-size="18.32">Δ</text>
</g>
<g transform="translate(668.2 903.8) scale(1.1 1) rotate(-45)" font-size="22.9">
<text x="-1" text-anchor="end" letter-spacing="-1">mvfR+D80</text>
<text transform="translate(-102.01 1.5) scale(1.2 1)" text-anchor="end" font-size="18.32">Δ</text>
</g>
<g transform="translate(730.6 903.8) scale(1.1 1) rotate(-45)" font-size="22.9">
<text x="-1" text-anchor="end" letter-spacing="-1">mvfR+D88</text>
<text transform="translate(-102.01 1.5) scale(1.2 1)" text-anchor="end" font-size="18.32">Δ</text>
</g>
<g transform="translate(793 903.8) scale(1.1 1) rotate(-45)" font-size="22.9">
<text x="-1" text-anchor="end" letter-spacing="-1">mvfR+D95</text>
<text transform="translate(-102.01 1.5) scale(1.2 1)" text-anchor="end" font-size="18.32">Δ</text>
</g>
<g transform="translate(855.4 903.8) scale(1.1 1) rotate(-45)" font-size="22.9">
<text x="-1" text-anchor="end" letter-spacing="-1">mvfR+D100</text>
<text transform="translate(-113.75 1.5) scale(1.2 1)" text-anchor="end" font-size="18.32">Δ</text>
</g>
</g>
<g id="panel-c">
<g stroke="#000" stroke-width="1.2">
<rect x="1005.8" y="701.23" width="40.6" height="174.77" fill="#616161"/>
<rect x="1068.5" y="812.01" width="40.6" height="63.99" fill="#F94040"/>
<rect x="1131.2" y="831.63" width="40.6" height="44.37" fill="#00BE00"/>
<rect x="1193.9" y="811.51" width="40.6" height="64.49" fill="#0000FF"/>
<rect x="1256.6" y="818.55" width="40.6" height="57.45" fill="#B856D7"/>
<rect x="1319.3" y="824.09" width="40.6" height="51.91" fill="#000080"/>
<rect x="1382" y="823.84" width="40.6" height="52.16" fill="#59A5FA"/>
<rect x="1444.7" y="820.57" width="40.6" height="55.43" fill="#0000C0"/>
<rect x="1507.4" y="820.57" width="40.6" height="55.43" fill="#F86295"/>
<rect x="1570.1" y="821.57" width="40.6" height="54.43" fill="#077E97"/>
<rect x="1632.8" y="833.14" width="40.6" height="42.86" fill="#C89550"/>
<rect x="1695.5" y="808.24" width="40.6" height="67.76" fill="#808000"/>
</g>
<g fill="#000000"><ellipse cx="1025.97" cy="665.01" rx="4.4" ry="4.1"/><ellipse cx="1025.97" cy="673.31" rx="4.4" ry="4.1"/><ellipse cx="1025.97" cy="687.14" rx="4.4" ry="4.1"/><ellipse cx="1017.67" cy="719.35" rx="4.4" ry="4.1"/><ellipse cx="1034.53" cy="724.38" rx="4.4" ry="4.1"/><ellipse cx="1025.97" cy="735.19" rx="4.4" ry="4.1"/></g>
<g fill="#FB8383"><ellipse cx="1088.87" cy="804.46" rx="4.4" ry="4.1"/><ellipse cx="1105.47" cy="805.22" rx="4.4" ry="4.1"/><ellipse cx="1072.01" cy="810" rx="4.4" ry="4.1"/><ellipse cx="1072.01" cy="819.31" rx="4.4" ry="4.1"/><ellipse cx="1088.87" cy="815.03" rx="4.4" ry="4.1"/><ellipse cx="1105.47" cy="815.53" rx="4.4" ry="4.1"/></g>
<g fill="#44EAAE"><ellipse cx="1151.51" cy="819.81" rx="4.4" ry="4.1"/><ellipse cx="1134.91" cy="828.62" rx="4.4" ry="4.1"/><ellipse cx="1168.36" cy="833.14" rx="4.4" ry="4.1"/><ellipse cx="1145.72" cy="831.89" rx="4.4" ry="4.1"/><ellipse cx="1157.04" cy="831.63" rx="4.4" ry="4.1"/><ellipse cx="1151.51" cy="843.46" rx="4.4" ry="4.1"/></g>
<g fill="#5252EC"><ellipse cx="1214.4" cy="792.14" rx="4.4" ry="4.1"/><ellipse cx="1214.4" cy="805.22" rx="4.4" ry="4.1"/><ellipse cx="1197.55" cy="808.99" rx="4.4" ry="4.1"/><ellipse cx="1231.01" cy="812.52" rx="4.4" ry="4.1"/><ellipse cx="1214.4" cy="820.57" rx="4.4" ry="4.1"/><ellipse cx="1214.4" cy="830.63" rx="4.4" ry="4.1"/></g>
<g fill="#E18CFA"><ellipse cx="1268.74" cy="806.98" rx="4.4" ry="4.1"/><ellipse cx="1285.35" cy="803.71" rx="4.4" ry="4.1"/><ellipse cx="1268.74" cy="816.04" rx="4.4" ry="4.1"/><ellipse cx="1285.35" cy="815.28" rx="4.4" ry="4.1"/><ellipse cx="1285.35" cy="830.38" rx="4.4" ry="4.1"/><ellipse cx="1268.74" cy="835.16" rx="4.4" ry="4.1"/></g>
<g fill="#5B5BF9"><ellipse cx="1323.34" cy="812.52" rx="4.4" ry="4.1"/><ellipse cx="1339.69" cy="813.77" rx="4.4" ry="4.1"/><ellipse cx="1356.3" cy="819.56" rx="4.4" ry="4.1"/><ellipse cx="1339.69" cy="824.84" rx="4.4" ry="4.1"/><ellipse cx="1331.39" cy="836.41" rx="4.4" ry="4.1"/><ellipse cx="1347.99" cy="834.4" rx="4.4" ry="4.1"/></g>
<g fill="#9CC8FC"><ellipse cx="1385.73" cy="817.29" rx="4.4" ry="4.1"/><ellipse cx="1419.19" cy="816.54" rx="4.4" ry="4.1"/><ellipse cx="1396.8" cy="822.58" rx="4.4" ry="4.1"/><ellipse cx="1408.12" cy="820.82" rx="4.4" ry="4.1"/><ellipse cx="1396.8" cy="833.14" rx="4.4" ry="4.1"/><ellipse cx="1408.12" cy="829.87" rx="4.4" ry="4.1"/></g>
<g fill="#0000FF"><ellipse cx="1465.23" cy="801.45" rx="4.4" ry="4.1"/><ellipse cx="1448.37" cy="816.54" rx="4.4" ry="4.1"/><ellipse cx="1481.83" cy="817.55" rx="4.4" ry="4.1"/><ellipse cx="1465.23" cy="819.56" rx="4.4" ry="4.1"/><ellipse cx="1456.92" cy="834.15" rx="4.4" ry="4.1"/><ellipse cx="1473.53" cy="831.89" rx="4.4" ry="4.1"/></g>
<g fill="#FA9CC9"><ellipse cx="1544.72" cy="801.45" rx="4.4" ry="4.1"/><ellipse cx="1527.87" cy="808.24" rx="4.4" ry="4.1"/><ellipse cx="1527.87" cy="819.81" rx="4.4" ry="4.1"/><ellipse cx="1511.26" cy="833.14" rx="4.4" ry="4.1"/><ellipse cx="1527.87" cy="828.11" rx="4.4" ry="4.1"/><ellipse cx="1544.72" cy="831.89" rx="4.4" ry="4.1"/></g>
<g fill="#1A9FB9"><ellipse cx="1590.51" cy="799.43" rx="4.4" ry="4.1"/><ellipse cx="1573.91" cy="819.81" rx="4.4" ry="4.1"/><ellipse cx="1607.36" cy="822.83" rx="4.4" ry="4.1"/><ellipse cx="1590.51" cy="820.31" rx="4.4" ry="4.1"/><ellipse cx="1582.21" cy="833.65" rx="4.4" ry="4.1"/><ellipse cx="1598.81" cy="831.89" rx="4.4" ry="4.1"/></g>
<g fill="#FDC187"><ellipse cx="1653.4" cy="823.84" rx="4.4" ry="4.1"/><ellipse cx="1670.01" cy="825.85" rx="4.4" ry="4.1"/><ellipse cx="1636.55" cy="830.63" rx="4.4" ry="4.1"/><ellipse cx="1670.01" cy="834.4" rx="4.4" ry="4.1"/><ellipse cx="1653.4" cy="836.92" rx="4.4" ry="4.1"/><ellipse cx="1653.4" cy="844.97" rx="4.4" ry="4.1"/></g>
<path d="M1026.1 688.65V712.55 M1015.6 688.65H1036.6 M1015.6 712.55H1036.6 M1088.8 808.74V814.53 M1078.3 808.74H1099.3 M1078.3 814.53H1099.3 M1151.5 828.36V834.4 M1141 828.36H1162 M1141 834.4H1162 M1214.2 805.97V816.54 M1203.7 805.97H1224.7 M1203.7 816.54H1224.7 M1276.9 812.52V822.83 M1266.4 812.52H1287.4 M1266.4 822.83H1287.4 M1339.6 819.56V827.86 M1329.1 819.56H1350.1 M1329.1 827.86H1350.1 M1402.3 820.82V826.6 M1391.8 820.82H1412.8 M1391.8 826.6H1412.8 M1465 815.28V825.09 M1454.5 815.28H1475.5 M1454.5 825.09H1475.5 M1527.7 814.53V825.35 M1517.2 814.53H1538.2 M1517.2 825.35H1538.2 M1590.4 816.29V826.35 M1579.9 816.29H1600.9 M1579.9 826.35H1600.9 M1653.1 829.37V835.66 M1642.6 829.37H1663.6 M1642.6 835.66H1663.6 M1715.8 803.71V812.52 M1705.3 803.71H1726.3 M1705.3 812.52H1726.3" fill="none" stroke="#000" stroke-width="1.2"/>
<g fill="#C8C800"><ellipse cx="1732.9" cy="798.18" rx="4.4" ry="4.1"/><ellipse cx="1716.3" cy="799.94" rx="4.4" ry="4.1"/><ellipse cx="1699.44" cy="805.22" rx="4.4" ry="4.1"/><ellipse cx="1732.9" cy="806.48" rx="4.4" ry="4.1"/><ellipse cx="1716.3" cy="808.74" rx="4.4" ry="4.1"/><ellipse cx="1716.3" cy="828.11" rx="4.4" ry="4.1"/></g>
<path d="M987 876H995.2 M990.6 858.46H995.2 M987 840.92H995.2 M990.6 823.38H995.2 M987 805.84H995.2 M990.6 788.3H995.2 M987 770.76H995.2 M990.6 753.22H995.2 M987 735.68H995.2 M990.6 718.14H995.2 M987 700.6H995.2 M990.6 683.06H995.2 M987 665.52H995.2 M990.6 647.98H995.2 M987 630.44H995.2 M990.6 612.9H995.2 M1026.1 876V884.5 M1088.8 876V884.5 M1151.5 876V884.5 M1214.2 876V884.5 M1276.9 876V884.5 M1339.6 876V884.5 M1402.3 876V884.5 M1465 876V884.5 M1527.7 876V884.5 M1590.4 876V884.5 M1653.1 876V884.5 M1715.8 876V884.5 M995.2 611.45V877.45 M987 876H1749" fill="none" stroke="#000" stroke-width="2.9"/>
<text transform="translate(970.6 883.9) scale(1.1000 1)" font-size="21.6">0</text>
<text transform="translate(957.42 848.82) scale(1.1000 1)" font-size="21.6">20</text>
<text transform="translate(957.42 813.74) scale(1.1000 1)" font-size="21.6">40</text>
<text transform="translate(957.42 778.66) scale(1.1000 1)" font-size="21.6">60</text>
<text transform="translate(957.42 743.58) scale(1.1000 1)" font-size="21.6">80</text>
<text transform="translate(944.17 708.5) scale(1.1000 1)" font-size="21.6">100</text>
<text transform="translate(944.17 673.42) scale(1.1000 1)" font-size="21.6">120</text>
<text transform="translate(944.17 638.34) scale(1.1000 1)" font-size="21.6">140</text>
<text transform="translate(932.4 790.63) rotate(-90) scale(0.9466 1.0400)" font-size="22.5" font-weight="bold" style="stroke-width:0.55px">% Biofilm</text>
<g transform="translate(1034.1 901.2) scale(1.1 1) rotate(-45)" font-size="22.9">
<text x="-1" text-anchor="end" letter-spacing="-1">PA14</text>
</g>
<g transform="translate(1096.8 901.2) scale(1.1 1) rotate(-45)" font-size="22.9">
<text x="-1" text-anchor="end" letter-spacing="-1">mvfR</text>
<text transform="translate(-50.63 1.5) scale(1.2 1)" text-anchor="end" font-size="18.32">Δ</text>
</g>
<g transform="translate(1159.5 901.2) scale(1.1 1) rotate(-45)" font-size="22.9">
<text x="-1" text-anchor="end" letter-spacing="-1">mvfR+D41</text>
<text transform="translate(-102.01 1.5) scale(1.2 1)" text-anchor="end" font-size="18.32">Δ</text>
</g>
<g transform="translate(1222.2 901.2) scale(1.1 1) rotate(-45)" font-size="22.9">
<text x="-1" text-anchor="end" letter-spacing="-1">mvfR+D42</text>
<text transform="translate(-102.01 1.5) scale(1.2 1)" text-anchor="end" font-size="18.32">Δ</text>
</g>
<g transform="translate(1284.9 901.2) scale(1.1 1) rotate(-45)" font-size="22.9">
<text x="-1" text-anchor="end" letter-spacing="-1">mvfR+D43</text>
<text transform="translate(-102.01 1.5) scale(1.2 1)" text-anchor="end" font-size="18.32">Δ</text>
</g>
<g transform="translate(1347.6 901.2) scale(1.1 1) rotate(-45)" font-size="22.9">
<text x="-1" text-anchor="end" letter-spacing="-1">MvfR+D57</text>
<text transform="translate(-102.01 1.5) scale(1.2 1)" text-anchor="end" font-size="18.32">Δ</text>
</g>
<g transform="translate(1410.3 901.2) scale(1.1 1) rotate(-45)" font-size="22.9">
<text x="-1" text-anchor="end" letter-spacing="-1">MvfR+D69</text>
<text transform="translate(-102.01 1.5) scale(1.2 1)" text-anchor="end" font-size="18.32">Δ</text>
</g>
<g transform="translate(1473 901.2) scale(1.1 1) rotate(-45)" font-size="22.9">
<text x="-1" text-anchor="end" letter-spacing="-1">mvfR+D77</text>
<text transform="translate(-102.01 1.5) scale(1.2 1)" text-anchor="end" font-size="18.32">Δ</text>
</g>
<g transform="translate(1535.7 901.2) scale(1.1 1) rotate(-45)" font-size="22.9">
<text x="-1" text-anchor="end" letter-spacing="-1">mvfR+D80</text>
<text transform="translate(-102.01 1.5) scale(1.2 1)" text-anchor="end" font-size="18.32">Δ</text>
</g>
<g transform="translate(1598.4 901.2) scale(1.1 1) rotate(-45)" font-size="22.9">
<text x="-1" text-anchor="end" letter-spacing="-1">mvfR+D88</text>
<text transform="translate(-102.01 1.5) scale(1.2 1)" text-anchor="end" font-size="18.32">Δ</text>
</g>
<g transform="translate(1661.1 901.2) scale(1.1 1) rotate(-45)" font-size="22.9">
<text x="-1" text-anchor="end" letter-spacing="-1">mvfR+D95</text>
<text transform="translate(-102.01 1.5) scale(1.2 1)" text-anchor="end" font-size="18.32">Δ</text>
</g>
<g transform="translate(1723.8 901.2) scale(1.1 1) rotate(-45)" font-size="22.9">
<text x="-1" text-anchor="end" letter-spacing="-1">mvfR+D100</text>
<text transform="translate(-113.75 1.5) scale(1.2 1)" text-anchor="end" font-size="18.32">Δ</text>
</g>
</g>
<text transform="translate(-1.44 27) scale(0.9600 1)" font-size="50">a</text>
<text transform="translate(-1.55 610.3)" font-size="48.5">b</text>
<text transform="translate(875.48 610.6)" font-size="50">c</text>
</svg></body></html>
